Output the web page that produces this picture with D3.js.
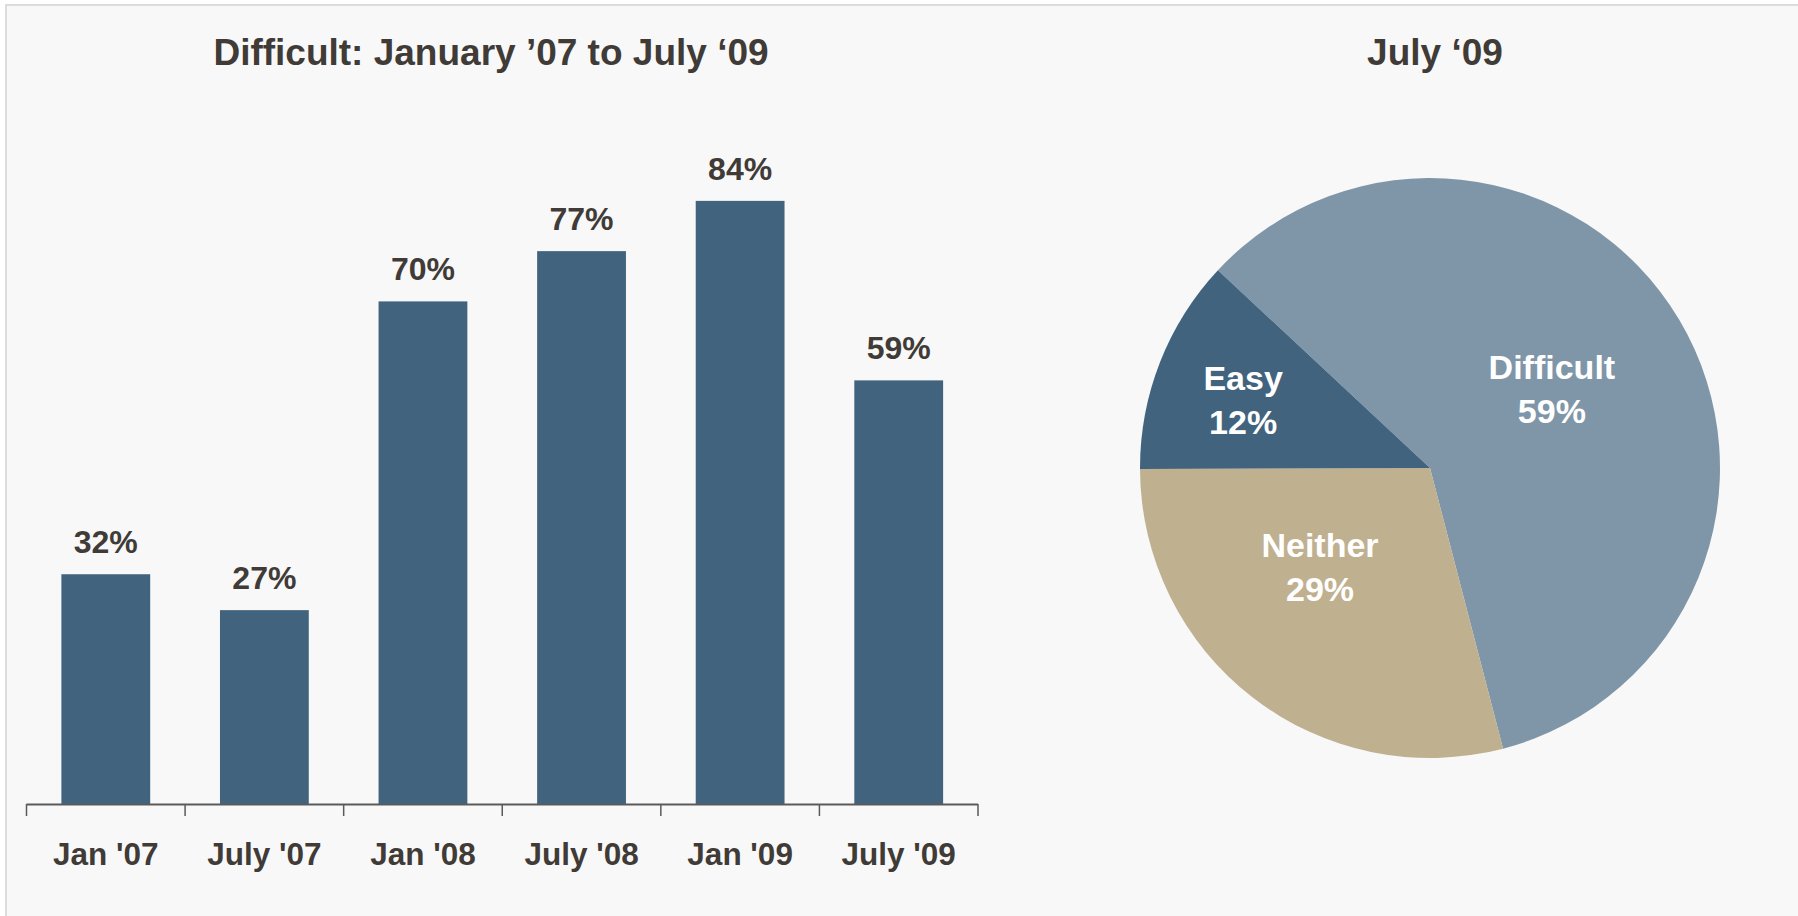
<!DOCTYPE html>
<html>
<head>
<meta charset="utf-8">
<script src="https://cdn.jsdelivr.net/npm/d3@7"></script>
<style>
  html, body { margin: 0; padding: 0; background: #ffffff; }
  svg { display: block; }
  text { font-family: "Liberation Sans", Arial, sans-serif; font-weight: bold; }
</style>
</head>
<body>
<svg id="chart" width="1798" height="916"></svg>
<script>
// Share answering "Difficult", by survey wave
const periods = ["Jan '07", "July '07", "Jan '08", "July '08", "Jan '09", "July '09"];
const difficultPct = [32, 27, 70, 77, 84, 59];

// Latest wave breakdown
const sliceNames = ["Difficult", "Neither", "Easy"];
const slicePct = [59, 29, 12];

const barTitle = "Difficult: January \u201907 to July \u201809";
const pieTitle = "July \u201809";

const ink = "#403b37";
const barColor = "#41637e";
const sliceColors = { Difficult: "#7f96a9", Neither: "#bfb08f", Easy: "#41637e" };

const svg = d3.select("#chart");

// panel frame
svg.append("rect")
  .attr("x", 6).attr("y", 5).attr("width", 1800).attr("height", 920)
  .attr("fill", "#f8f8f8").attr("stroke", "#dcdcdc").attr("stroke-width", 2);

// ---------- bar chart ----------
const x = d3.scaleBand()
  .domain(periods)
  .range([26.5, 978])
  .paddingInner(0.44)
  .paddingOuter(0.22);

const y = d3.scaleLinear().domain([0, 100]).range([804, 86]);

const bars = svg.append("g");

bars.selectAll("rect.bar")
  .data(difficultPct)
  .join("rect")
  .attr("class", "bar")
  .attr("x", (d, i) => x(periods[i]))
  .attr("y", d => y(d))
  .attr("width", x.bandwidth())
  .attr("height", d => y(0) - y(d))
  .attr("fill", barColor);

bars.selectAll("text.val")
  .data(difficultPct)
  .join("text")
  .attr("class", "val")
  .attr("x", (d, i) => x(periods[i]) + x.bandwidth() / 2)
  .attr("y", d => y(d) - 21)
  .attr("text-anchor", "middle")
  .attr("font-size", 32)
  .attr("fill", ink)
  .text(d => d + "%");

// category axis: ticks sit on band boundaries
const step = x.step();
const x0 = x.range()[0];
const axis = svg.append("g");
axis.append("line")
  .attr("x1", x0).attr("x2", x.range()[1])
  .attr("y1", y(0) + 0.5).attr("y2", y(0) + 0.5)
  .attr("stroke", "#5a5a5a").attr("stroke-width", 2);
axis.selectAll("line.tick")
  .data(d3.range(periods.length + 1))
  .join("line")
  .attr("class", "tick")
  .attr("x1", i => x0 + i * step).attr("x2", i => x0 + i * step)
  .attr("y1", y(0)).attr("y2", y(0) + 12)
  .attr("stroke", "#5a5a5a").attr("stroke-width", 1.5);
axis.selectAll("text")
  .data(periods)
  .join("text")
  .attr("x", d => x(d) + x.bandwidth() / 2)
  .attr("y", 865)
  .attr("text-anchor", "middle")
  .attr("font-size", 31.5)
  .attr("fill", ink)
  .text(d => d);

svg.append("text")
  .attr("x", 491).attr("y", 65)
  .attr("text-anchor", "middle")
  .attr("font-size", 37)
  .attr("fill", ink)
  .text(barTitle);

// ---------- pie chart ----------
const cx = 1430, cy = 468, R = 290;
const deg = Math.PI / 180;

const pie = d3.pie().sort(null).value(d => d.v)
  .startAngle(-47 * deg).endAngle(313 * deg);
const slices = pie(sliceNames.map((n, i) => ({ name: n, v: slicePct[i] })));

const arc = d3.arc().innerRadius(0).outerRadius(R);
const pg = svg.append("g").attr("transform", `translate(${cx},${cy})`);

pg.selectAll("path")
  .data(slices)
  .join("path")
  .attr("d", arc)
  .attr("fill", d => sliceColors[d.data.name]);

// label placement: radius and angular nudge from slice mid-angle
const labelPlace = {
  Difficult: { r: 145, da: -2 },
  Neither:   { r: 148, da: 10.4 },
  Easy:      { r: 199, da: -1.3 }
};

const lbl = pg.selectAll("text")
  .data(slices)
  .join("text")
  .attr("text-anchor", "middle")
  .attr("font-size", 34)
  .attr("fill", "#ffffff")
  .attr("transform", d => {
    const p = labelPlace[d.data.name];
    const a = (d.startAngle + d.endAngle) / 2 + p.da * deg;
    return `translate(${p.r * Math.sin(a)},${-p.r * Math.cos(a)})`;
  });
lbl.append("tspan").attr("x", 0).attr("y", -10).text(d => d.data.name);
lbl.append("tspan").attr("x", 0).attr("y", 34).text(d => d.data.v + "%");

svg.append("text")
  .attr("x", 1435).attr("y", 65)
  .attr("text-anchor", "middle")
  .attr("font-size", 37)
  .attr("fill", ink)
  .text(pieTitle);
</script>
</body>
</html>
